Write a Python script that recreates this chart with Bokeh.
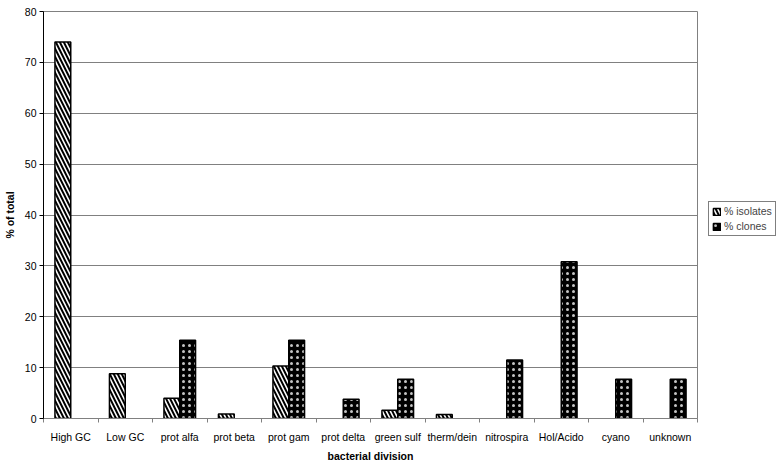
from bokeh.plotting import figure
from bokeh.models import FixedTicker, Legend, LegendItem, ColumnDataSource
from bokeh.embed import file_html
from bokeh.resources import INLINE

categories = ["High GC", "Low GC", "prot alfa", "prot beta", "prot gam", "prot delta",
              "green sulf", "therm/dein", "nitrospira", "Hol/Acido", "cyano", "unknown"]
isolates = [74.0, 8.8, 4.0, 0.9, 10.3, 0.0, 1.6, 0.8, 0.0, 0.0, 0.0, 0.0]
clones = [0.0, 0.0, 15.4, 0.0, 15.4, 3.8, 7.7, 0.0, 11.5, 30.8, 7.7, 7.7]
y_ticks = [0, 10, 20, 30, 40, 50, 60, 70, 80]

BW = 0.29
FONT = "Liberation Sans"

def src(vals, offset):
    xs, tops = [], []
    for i, v in enumerate(vals):
        if v > 0:
            xs.append(i + 0.5 + offset)
            tops.append(v)
    return ColumnDataSource(dict(x=xs, top=tops))

p = figure(frame_width=654, frame_height=407, x_range=(0, 12), y_range=(0, 80),
           output_backend="svg", toolbar_location=None,
           min_border_left=35, min_border_top=11, min_border_right=74, min_border_bottom=30)

r_iso = p.vbar(x="x", top="top", bottom=0, width=BW, source=src(isolates, -BW / 2),
               fill_color="white", line_color="black", line_width=1.5,
               hatch_pattern="left_diagonal_line", hatch_color="black",
               hatch_scale=8, hatch_weight=2)
r_clo = p.vbar(x="x", top="top", bottom=0, width=BW, source=src(clones, BW / 2),
               fill_color="black", line_color="black", line_width=1.5,
               hatch_pattern="dot", hatch_color="#c4c4c4",
               hatch_scale=6, hatch_weight=0.1)

# axes
p.xaxis.ticker = FixedTicker(ticks=[i + 0.5 for i in range(len(categories))],
                             minor_ticks=list(range(len(categories) + 1)))
p.xaxis.major_label_overrides = {i + 0.5: c for i, c in enumerate(categories)}
p.xaxis.major_tick_line_color = None
p.xaxis.minor_tick_in = 0
p.xaxis.minor_tick_out = 4
p.xaxis.minor_tick_line_color = "#808080"
p.xaxis.axis_line_color = "#808080"
p.xaxis.major_label_standoff = 6
p.xaxis.axis_label = "bacterial division"
p.xaxis.axis_label_standoff = 4

p.yaxis.ticker = FixedTicker(ticks=y_ticks, minor_ticks=[])
p.yaxis.major_tick_in = 0
p.yaxis.major_tick_out = 4
p.yaxis.major_label_standoff = 3
p.yaxis.axis_label = "% of total"
p.yaxis.axis_label_standoff = 6

for ax in (p.xaxis, p.yaxis):
    ax.major_label_text_font = FONT
    ax.major_label_text_font_size = "10.5px"
    ax.major_label_text_color = "black"
    ax.axis_label_text_font = FONT
    ax.axis_label_text_font_size = "10.5px"
    ax.axis_label_text_font_style = "bold"
    ax.axis_label_text_color = "black"

p.xgrid.grid_line_color = None
p.ygrid.grid_line_color = "#808080"
p.ygrid.grid_line_width = 1
p.outline_line_color = "#808080"
p.background_fill_color = "white"
p.border_fill_color = "white"

legend = Legend(items=[LegendItem(label="% isolates", renderers=[r_iso]),
                       LegendItem(label="% clones", renderers=[r_clo])],
                location=(11, 182), orientation="vertical",
                label_text_font=FONT, label_text_font_size="10.5px",
                glyph_width=9, glyph_height=9, label_height=11,
                spacing=3, padding=3, margin=0, label_standoff=3,
                border_line_color="black", border_line_width=1)
p.add_layout(legend, "right")

open("out.html", "w").write(file_html(p, INLINE))
